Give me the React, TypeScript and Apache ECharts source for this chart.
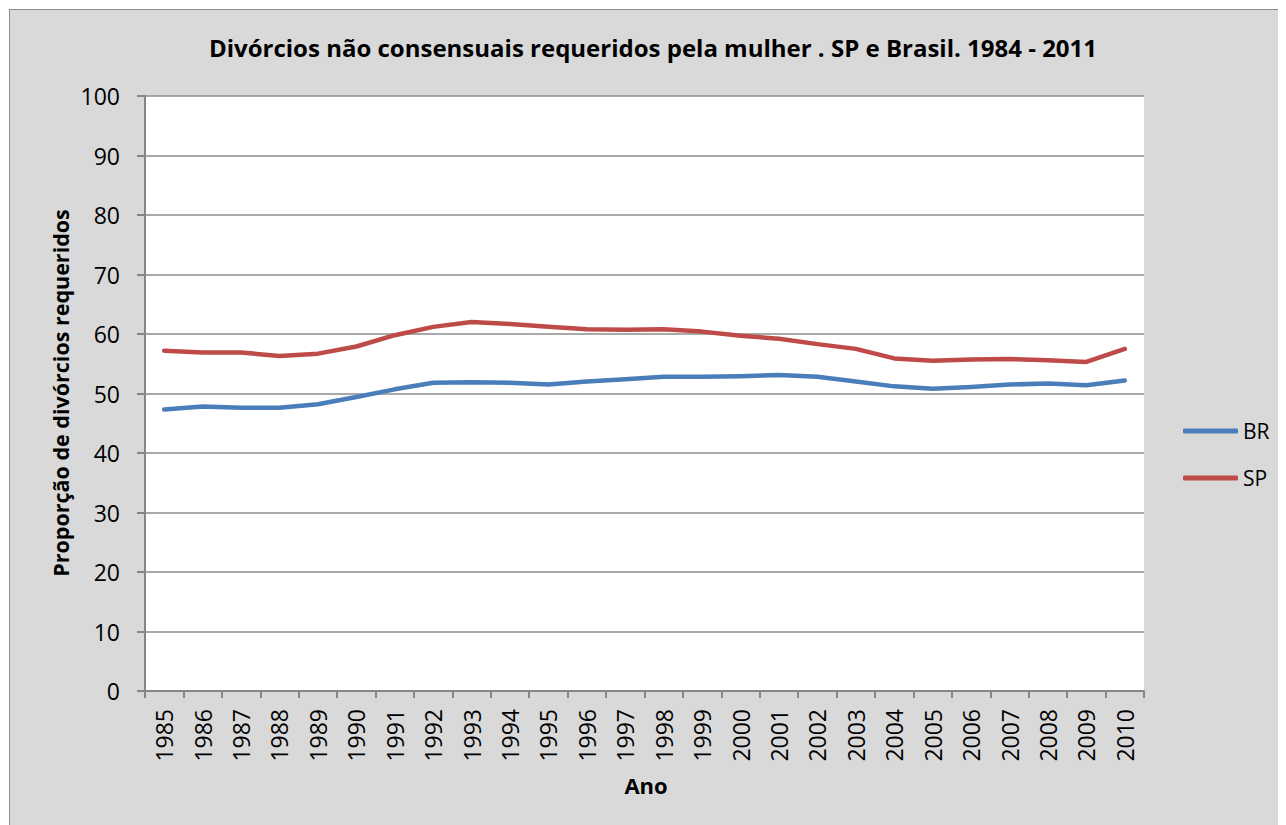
import React, { useEffect, useRef } from "react";
import * as echarts from "echarts";

const years = ["1985","1986","1987","1988","1989","1990","1991","1992","1993","1994","1995","1996","1997","1998","1999","2000","2001","2002","2003","2004","2005","2006","2007","2008","2009","2010"];
const brValues = [47.3,47.8,47.6,47.6,48.2,49.4,50.7,51.8,51.9,51.8,51.5,52.0,52.4,52.8,52.8,52.9,53.1,52.8,52.0,51.2,50.8,51.1,51.5,51.7,51.4,52.2];
const spValues = [57.2,56.9,56.9,56.3,56.7,57.9,59.8,61.2,62.0,61.7,61.2,60.8,60.7,60.8,60.4,59.7,59.2,58.3,57.5,55.9,55.5,55.7,55.8,55.6,55.3,57.5];
const titleText = "Divórcios não consensuais requeridos pela mulher . SP e Brasil. 1984 - 2011";
const yName = "Proporção de divórcios requeridos";
const xName = "Ano";

const FONT = "Open Sans";

export default function App() {
  const ref = useRef<HTMLDivElement>(null);
  useEffect(() => {
    if (!ref.current) return;
    const chart = echarts.init(ref.current, null, { renderer: "svg" });
    chart.setOption({
      animation: false,
      backgroundColor: "#d9d9d9",
      textStyle: { fontFamily: FONT },
      grid: { left: 135, top: 86, width: 999, height: 595, show: true, backgroundColor: "#ffffff", borderWidth: 0 },
      graphic: [
        { type: "text", x: 643, y: 37, style: { text: titleText, fontFamily: FONT, fontWeight: "bold", fontSize: 24, fill: "#000", align: "center", verticalAlign: "middle" } },
        { type: "text", x: 50, y: 383, rotation: Math.PI / 2, style: { text: yName, fontFamily: FONT, fontWeight: "bold", fontSize: 21.5, fill: "#000", align: "center", verticalAlign: "middle" } },
        { type: "text", x: 636, y: 775, style: { text: xName, fontFamily: FONT, fontWeight: "bold", fontSize: 22, fill: "#000", align: "center", verticalAlign: "middle" } },
      ],
      legend: {
        orient: "vertical",
        left: 1168,
        top: 404,
        itemWidth: 55,
        itemHeight: 5,
        itemGap: 23,
        icon: "roundRect",
        textStyle: { fontFamily: FONT, fontSize: 21, color: "#000", lineHeight: 24 },
        data: ["BR", "SP"],
      },
      xAxis: {
        type: "category",
        data: years,
        boundaryGap: true,
        axisLine: { lineStyle: { color: "#868686", width: 2 } },
        axisTick: { show: true, alignWithLabel: false, length: 7, lineStyle: { color: "#868686", width: 2 } },
        axisLabel: { rotate: 90, fontSize: 23, color: "#000", margin: 18, fontFamily: FONT, interval: 0 },
        splitLine: { show: false },
      },
      yAxis: {
        type: "value",
        min: 0,
        max: 100,
        interval: 10,
        axisLine: { show: true, lineStyle: { color: "#868686", width: 2 } },
        axisTick: { show: true, length: 8, lineStyle: { color: "#868686", width: 2 } },
        axisLabel: { fontSize: 23, color: "#000", margin: 25, fontFamily: FONT },
        splitLine: { show: true, lineStyle: { color: "#8c8c8c", width: 1.5 } },
      },
      series: [
        { name: "BR", type: "line", data: brValues, symbol: "none", smooth: false, lineStyle: { color: "#4a7ebb", width: 4.5, cap: "round", join: "round" }, itemStyle: { color: "#4a7ebb" } },
        { name: "SP", type: "line", data: spValues, symbol: "none", smooth: false, lineStyle: { color: "#be4b48", width: 4.5, cap: "round", join: "round" }, itemStyle: { color: "#be4b48" } },
      ],
    });
    return () => chart.dispose();
  }, []);
  return (
    <div style={{ marginTop: 1, marginLeft: 1, width: 1277, height: 816, borderTop: "1px solid #8c8c8c", borderLeft: "1px solid #8c8c8c", background: "#d9d9d9" }}>
      <div ref={ref} style={{ width: 1277, height: 816 }} />
    </div>
  );
}
